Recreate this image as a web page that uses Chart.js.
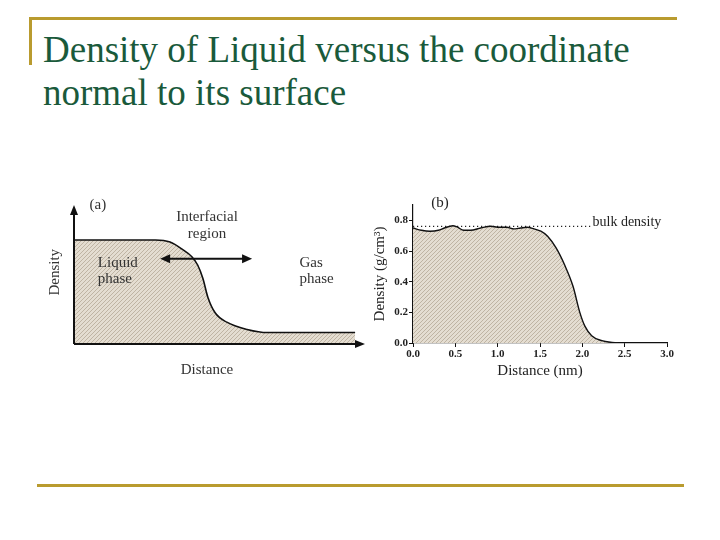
<!DOCTYPE html>
<html>
<head>
<meta charset="utf-8">
<script src="https://cdn.jsdelivr.net/npm/chart.js@4"></script>
<style>
  body { margin: 0; width: 720px; height: 540px; background: #fff; position: relative; overflow: hidden; }
  .rule { position: absolute; background: #b99b2f; }
  #title { position: absolute; left: 43px; top: 28px; font: 37px "Liberation Serif", serif; line-height: 43px; color: #1a5a3b; white-space: nowrap; }
  canvas { position: absolute; }
</style>
</head>
<body>
<div class="rule" style="left:29px; top:17px; width:648px; height:3px;"></div>
<div class="rule" style="left:29px; top:17px; width:3px; height:48px;"></div>
<div class="rule" style="left:37px; top:484px; width:647px; height:3px;"></div>
<div id="title">Density of Liquid versus the coordinate<br>normal to its surface</div>
<canvas id="chartA" style="left:40px; top:190px;" width="340" height="200"></canvas>
<canvas id="chartB" style="left:365px; top:190px;" width="320" height="200"></canvas>
<script>
// (a) schematic profile, arbitrary units
const schematicX = [0, 2.8, 3.3, 3.75, 4.05, 4.25, 4.43, 4.6, 4.85, 5.25, 5.95, 6.65, 9.66];
const schematicY = [1.0, 1.0, 0.98, 0.905, 0.84, 0.76, 0.63, 0.45, 0.3, 0.21, 0.14, 0.11, 0.11];

// (b) simulated density profile
const distNm = [0, 0.1, 0.2, 0.3, 0.37, 0.47, 0.52, 0.6, 0.68, 0.8, 0.92, 1.0, 1.11, 1.19, 1.27, 1.35, 1.43, 1.51, 1.59, 1.69, 1.79, 1.89, 1.97, 2.03, 2.11, 2.23, 2.35, 2.5, 3.0];
const densityVals = [0.75, 0.735, 0.729, 0.735, 0.75, 0.765, 0.757, 0.735, 0.735, 0.75, 0.761, 0.755, 0.755, 0.744, 0.75, 0.755, 0.744, 0.729, 0.696, 0.62, 0.51, 0.37, 0.2, 0.11, 0.048, 0.015, 0.004, 0, 0];
const bulkX = [0, 2.1];
const bulkY = [0.76, 0.76];
const xTicks = [0, 0.5, 1.0, 1.5, 2.0, 2.5, 3.0];
const yTicks = [0, 0.2, 0.4, 0.6, 0.8];

const serif = '"Liberation Serif", "Times New Roman", serif';

const makeHatch = () => {
    const c = document.createElement("canvas");
    c.width = 4;
    c.height = 4;
    const g = c.getContext("2d");
    g.fillStyle = "#e4ddd1";
    g.fillRect(0, 0, 4, 4);
    g.fillStyle = "#bfb4a3";
    for (let i = 0; i < 4; i++) g.fillRect(i, 3 - i, 1, 1);
    return g.createPattern(c, "repeat");
};

const arrowHead = (ctx, x, y, angle, len, wid) => {
    ctx.save();
    ctx.translate(x, y);
    ctx.rotate(angle);
    ctx.beginPath();
    ctx.moveTo(0, 0);
    ctx.lineTo(-len, -wid);
    ctx.lineTo(-len, wid);
    ctx.closePath();
    ctx.fill();
    ctx.restore();
};

// text notes for (a): [text, x, y, align, rotate]
const notesA = [
    ["(a)", 0.82, 1.34, "center", false],
    ["Interfacial", 4.57, 1.22, "center", false],
    ["region", 4.57, 1.06, "center", false],
    ["Liquid", 0.82, 0.775, "left", false],
    ["phase", 0.82, 0.62, "left", false],
    ["Gas", 7.75, 0.775, "left", false],
    ["phase", 7.75, 0.62, "left", false],
    ["Density", -0.65, 0.69, "center", true],
    ["Distance", 4.57, -0.25, "center", false],
];

const schematicDecor = {
    id: "schematicDecor",
    afterDraw(chart) {
        const { ctx, chartArea: a, scales: { x, y } } = chart;
        ctx.save();
        ctx.strokeStyle = "#111";
        ctx.fillStyle = "#111";
        ctx.lineWidth = 2;
        ctx.beginPath();
        ctx.moveTo(a.left, a.bottom);
        ctx.lineTo(a.left, a.top + 6);
        ctx.moveTo(a.left, a.bottom);
        ctx.lineTo(a.right - 6, a.bottom);
        ctx.stroke();
        arrowHead(ctx, a.left, a.top, -Math.PI / 2, 10, 4);
        arrowHead(ctx, a.right, a.bottom, 0, 10, 4);

        // interfacial double arrow
        const y0 = y.getPixelForValue(0.82);
        const x1 = x.getPixelForValue(2.96);
        const x2 = x.getPixelForValue(6.12);
        ctx.beginPath();
        ctx.moveTo(x1 + 6, y0);
        ctx.lineTo(x2 - 6, y0);
        ctx.stroke();
        arrowHead(ctx, x2, y0, 0, 10, 4.5);
        arrowHead(ctx, x1, y0, Math.PI, 10, 4.5);

        ctx.font = "15px " + serif;
        ctx.fillStyle = "#333";
        ctx.textBaseline = "middle";
        notesA.forEach(([t, vx, vy, align, rot]) => {
            const px = x.getPixelForValue(vx);
            const py = y.getPixelForValue(vy);
            ctx.textAlign = align;
            if (rot) {
                ctx.save();
                ctx.translate(px, py);
                ctx.rotate(-Math.PI / 2);
                ctx.fillText(t, 0, 0);
                ctx.restore();
            } else {
                ctx.fillText(t, px, py);
            }
        });
        ctx.restore();
    },
};

new Chart(document.getElementById("chartA"), {
    type: "line",
    data: {
        datasets: [
            {
                data: schematicX.map((v, i) => ({ x: v, y: schematicY[i] })),
                borderColor: "#111",
                borderWidth: 1.6,
                backgroundColor: makeHatch(),
                fill: "origin",
                pointRadius: 0,
                cubicInterpolationMode: "monotone",
            },
        ],
    },
    options: {
        responsive: false,
        animation: false,
        layout: { padding: { left: 34, right: 15, top: 15, bottom: 46 } },
        plugins: { legend: { display: false }, tooltip: { enabled: false } },
        scales: {
            x: { type: "linear", min: 0, max: 10, display: false },
            y: { min: 0, max: 1.337, display: false },
        },
    },
    plugins: [schematicDecor],
});

const profileNotes = {
    id: "profileNotes",
    afterDraw(chart) {
        const { ctx, scales: { x, y } } = chart;
        ctx.save();
        ctx.fillStyle = "#222";
        ctx.textBaseline = "middle";
        ctx.font = "15px " + serif;
        ctx.textAlign = "center";
        ctx.fillText("(b)", x.getPixelForValue(0.32), y.getPixelForValue(0.915));
        ctx.font = "14px " + serif;
        ctx.textAlign = "left";
        ctx.fillText("bulk density", x.getPixelForValue(2.12), y.getPixelForValue(0.79));
        ctx.restore();
    },
};

new Chart(document.getElementById("chartB"), {
    type: "line",
    data: {
        datasets: [
            {
                data: distNm.map((v, i) => ({ x: v, y: densityVals[i] })),
                borderColor: "#111",
                borderWidth: 1.4,
                backgroundColor: makeHatch(),
                fill: "origin",
                pointRadius: 0,
                cubicInterpolationMode: "monotone",
                order: 1,
            },
            {
                data: bulkX.map((v, i) => ({ x: v, y: bulkY[i] })),
                borderColor: "#222",
                borderWidth: 1.2,
                borderDash: [1.2, 2.8],
                pointRadius: 0,
                fill: false,
                order: 2,
            },
        ],
    },
    options: {
        responsive: false,
        animation: false,
        layout: { padding: { left: 0, right: 18, top: 15, bottom: 10 } },
        plugins: { legend: { display: false }, tooltip: { enabled: false } },
        scales: {
            x: {
                type: "linear",
                min: 0,
                max: 3,
                afterBuildTicks: (s) => { s.ticks = xTicks.map((v) => ({ value: v })); },
                afterFit: (s) => { s.height = 37; },
                border: { color: "#111", width: 1.2 },
                grid: { drawOnChartArea: false, color: "#111", tickLength: 4 },
                ticks: {
                    color: "#222",
                    padding: 1,
                    maxRotation: 0,
                    font: { family: serif, size: 11, weight: "bold" },
                    callback: (v) => Number(v).toFixed(1),
                },
                title: {
                    display: true,
                    text: "Distance (nm)",
                    color: "#222",
                    padding: { top: 1, bottom: 0 },
                    font: { family: serif, size: 15 },
                },
            },
            y: {
                min: 0,
                max: 0.9,
                afterBuildTicks: (s) => { s.ticks = yTicks.map((v) => ({ value: v })); },
                afterFit: (s) => { s.width = 48; },
                border: { color: "#111", width: 1.2 },
                grid: { drawOnChartArea: false, color: "#111", tickLength: 4 },
                ticks: {
                    color: "#222",
                    padding: 1,
                    font: { family: serif, size: 11, weight: "bold" },
                    callback: (v) => Number(v).toFixed(1),
                },
                title: {
                    display: true,
                    text: "Density (g/cm³)",
                    color: "#222",
                    padding: { top: 6, bottom: 0 },
                    font: { family: serif, size: 15 },
                },
            },
        },
    },
    plugins: [profileNotes],
});
</script>
</body>
</html>
